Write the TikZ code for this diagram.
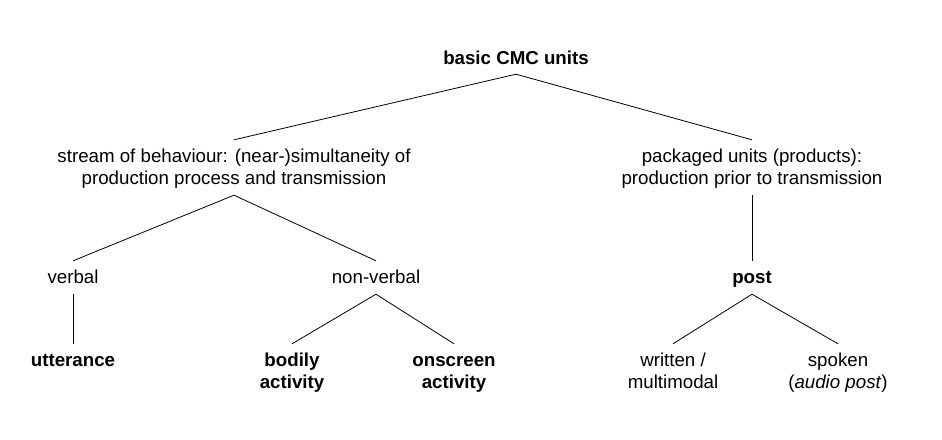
\documentclass[tikz,border=0pt]{standalone}
\usepackage{fontspec}
\setmainfont{Liberation Sans}

\begin{document}
\begin{tikzpicture}[
  x=1pt, y=-1pt,
  unit/.style={
    font=\fontsize{18.7}{22}\selectfont, align=center, anchor=base,
    inner xsep=0pt, inner ysep=7pt, text height=15pt, text depth=4pt
  },
  double/.style={unit, text height=37pt},
  key/.style={font=\fontsize{18.7}{22}\selectfont\bfseries},
  branch/.style={draw=black, line width=0.8pt},
]
  % Canvas
  \fill[white] (0,0) rectangle (942,439);
  \useasboundingbox (0,0) rectangle (942,439);

  % Row 1: Root
  \node[unit, key, inner ysep=6pt] (root) at (516,64) {basic CMC units};

  % Row 2: Two kinds of units (base = last line)
  \node[double] (stream) at (234,184) {stream of behaviour: (near-)simultaneity of\\production process and transmission};
  \node[double] (packaged) at (752,184) {packaged units (products):\\production prior to transmission};

  % Row 3
  \node[unit] (verbal) at (73,283) {verbal};
  \node[unit] (nonverbal) at (376,283) {non-verbal};
  \node[unit, key] (post) at (752,283) {post};

  % Row 4: Leaves
  \node[unit, key] (utterance) at (73,366) {utterance};
  \node[double, key] (bodily) at (292,388) {bodily\\activity};
  \node[double, key] (onscreen) at (454,388) {onscreen\\activity};
  \node[double] (written) at (673,388) {written /\\multimodal};
  \node[double] (spoken) at (838,388) {spoken\\(\textit{audio post})};

  % Branches: Root -> Row 2
  \draw[branch] (root.south) -- (stream.north);
  \draw[branch] (root.south) -- (packaged.north);

  % Branches: Row 2 -> Row 3
  \draw[branch] (stream.south) -- (verbal.north);
  \draw[branch] (stream.south) -- (nonverbal.north);
  \draw[branch] (packaged.south) -- (post.north);

  % Branches: Row 3 -> Row 4
  \draw[branch] (verbal.south) -- (utterance.north);
  \draw[branch] (nonverbal.south) -- (bodily.north);
  \draw[branch] (nonverbal.south) -- (onscreen.north);
  \draw[branch] (post.south) -- (written.north);
  \draw[branch] (post.south) -- (spoken.north);
\end{tikzpicture}
\end{document}
